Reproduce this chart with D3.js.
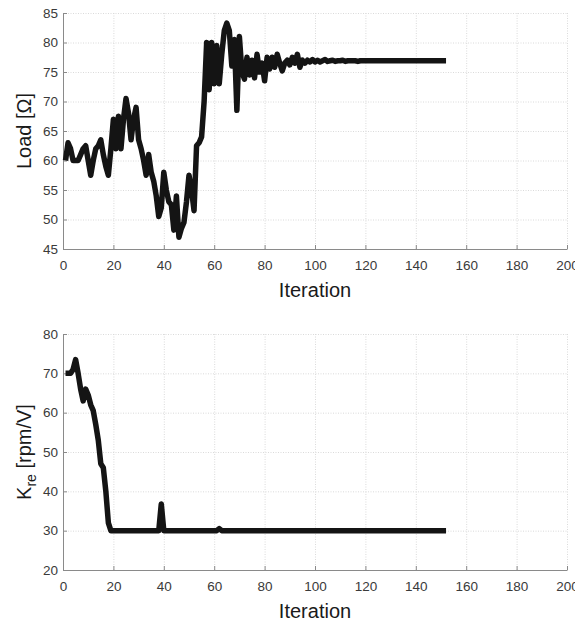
<!DOCTYPE html>
<html>
<head>
<meta charset="utf-8">
<script src="https://cdn.jsdelivr.net/npm/d3@7"></script>
<style>
  body { margin: 0; background: #fff; }
  svg { display: block; font-family: "Liberation Sans", Arial, Helvetica, sans-serif; }
  .grid line { stroke: #dadada; stroke-dasharray: 1 1.5; }
  .grid path { display: none; }
  .axis path, .axis line { stroke: #8a8a8a; }
  .axis text { fill: #3a3a3a; font-size: 13.5px; }
</style>
</head>
<body>
<div id="chart"></div>
<script>
// === Data (one value per iteration, starting at 1) ===
const loadValues = [
  60, 63, 62, 60, 60, 60, 61, 62, 62.5, 60,
  57.5, 60, 62, 62.5, 63.5, 61, 59, 57.5, 62, 67,
  62, 67.5, 62, 67, 70.5, 68, 63.5, 67, 69, 63.5,
  62, 60, 57.5, 61, 58, 56.5, 54, 50.5, 52, 58,
  55, 53, 52.5, 48.2, 54, 47, 48.5, 49.5, 53, 57.5,
  55, 51.5, 62.5, 63, 64, 70, 80, 72, 80, 73,
  79.5, 73, 78, 82, 83.3, 82, 76, 80.5, 68.5, 81,
  75, 73.8, 77.5, 74.5, 77, 74, 78, 75, 76.5, 73.5,
  77.5, 75.5, 77.5, 75.8, 78, 76.5, 75.2, 76.5, 77, 76.2,
  77.5, 76.5, 78, 75.8, 77, 76.5, 77, 76.7, 77.1, 76.7,
  77, 76.7, 76.9, 77.1, 76.8, 76.9, 77, 76.8, 76.9, 76.9,
  77, 76.8, 76.9, 76.9, 76.9, 76.9, 76.8, 76.9, 76.9, 76.9,
  76.9, 76.9, 76.9, 76.9, 76.9, 76.9, 76.9, 76.9, 76.9, 76.9,
  76.9, 76.9, 76.9, 76.9, 76.9, 76.9, 76.9, 76.9, 76.9, 76.9,
  76.9, 76.9, 76.9, 76.9, 76.9, 76.9, 76.9, 76.9, 76.9, 76.9,
  76.9, 76.9
];

const kreValues = [
  70, 70, 70, 71, 73.5, 70, 66, 63, 66, 64.5,
  62, 60.5, 57, 53, 47, 46, 40, 32, 30, 30,
  30, 30, 30, 30, 30, 30, 30, 30, 30, 30,
  30, 30, 30, 30, 30, 30, 30, 30, 36.8, 30,
  30, 30, 30, 30, 30, 30, 30, 30, 30, 30,
  30, 30, 30, 30, 30, 30, 30, 30, 30, 30,
  30, 30.5, 30, 30, 30, 30, 30, 30, 30, 30,
  30, 30, 30, 30, 30, 30, 30, 30, 30, 30,
  30, 30, 30, 30, 30, 30, 30, 30, 30, 30,
  30, 30, 30, 30, 30, 30, 30, 30, 30, 30,
  30, 30, 30, 30, 30, 30, 30, 30, 30, 30,
  30, 30, 30, 30, 30, 30, 30, 30, 30, 30,
  30, 30, 30, 30, 30, 30, 30, 30, 30, 30,
  30, 30, 30, 30, 30, 30, 30, 30, 30, 30,
  30, 30, 30, 30, 30, 30, 30, 30, 30, 30,
  30, 30
];

const xTicks = [0, 20, 40, 60, 80, 100, 120, 140, 160, 180, 200];
const loadTicks = [45, 50, 55, 60, 65, 70, 75, 80, 85];
const kreTicks = [20, 30, 40, 50, 60, 70, 80];

const svg = d3.select("#chart").append("svg")
  .attr("width", 575)
  .attr("height", 622);

const left = 63, plotW = 504, plotH = 236;

const x = d3.scaleLinear().domain([0, 200]).range([left, left + plotW]);

// one panel: grid, axes, line, labels
function drawPanel(top, values, yDomain, yTicks, labelY) {
  const y = d3.scaleLinear().domain(yDomain).range([top + plotH, top]);
  const g = svg.append("g");

  // grid
  g.append("g").attr("class", "grid")
    .attr("transform", `translate(0,${top + plotH})`)
    .call(d3.axisBottom(x).tickValues(xTicks).tickSize(-plotH).tickFormat(""));
  g.append("g").attr("class", "grid")
    .attr("transform", `translate(${left},0)`)
    .call(d3.axisLeft(y).tickValues(yTicks).tickSize(-plotW).tickFormat(""));

  // axes (ticks point inward, like MATLAB)
  g.append("g").attr("class", "axis")
    .attr("transform", `translate(0,${top + plotH})`)
    .call(d3.axisBottom(x).tickValues(xTicks).tickSizeInner(-4).tickSizeOuter(0).tickPadding(11));
  g.append("g").attr("class", "axis")
    .attr("transform", `translate(${left},0)`)
    .call(d3.axisLeft(y).tickValues(yTicks).tickSizeInner(-4).tickSizeOuter(0).tickPadding(5));

  // series
  const line = d3.line()
    .x((d, i) => x(i + 1))
    .y(d => y(d));
  g.append("path")
    .datum(values)
    .attr("fill", "none")
    .attr("stroke", "#141414")
    .attr("stroke-width", 5.5)
    .attr("stroke-linejoin", "round")
    .attr("stroke-linecap", "butt")
    .attr("d", line);

  // x label
  g.append("text")
    .attr("x", x(100))
    .attr("y", top + plotH + 48)
    .attr("text-anchor", "middle")
    .attr("font-size", 20)
    .attr("fill", "#1a1a1a")
    .text("Iteration");

  // y label
  const yl = g.append("text")
    .attr("transform", `translate(31,${top + plotH / 2}) rotate(-90)`)
    .attr("text-anchor", "middle")
    .attr("font-size", 20)
    .attr("fill", "#1a1a1a");
  labelY(yl);
}

drawPanel(13, loadValues, [45, 85], loadTicks, t => t.text("Load [Ω]"));
drawPanel(334, kreValues, [20, 80], kreTicks, t => {
  t.append("tspan").text("K");
  t.append("tspan").attr("font-size", 14).attr("dy", 5).text("re");
  t.append("tspan").attr("dy", -5).text(" [rpm/V]");
});
</script>
</body>
</html>
